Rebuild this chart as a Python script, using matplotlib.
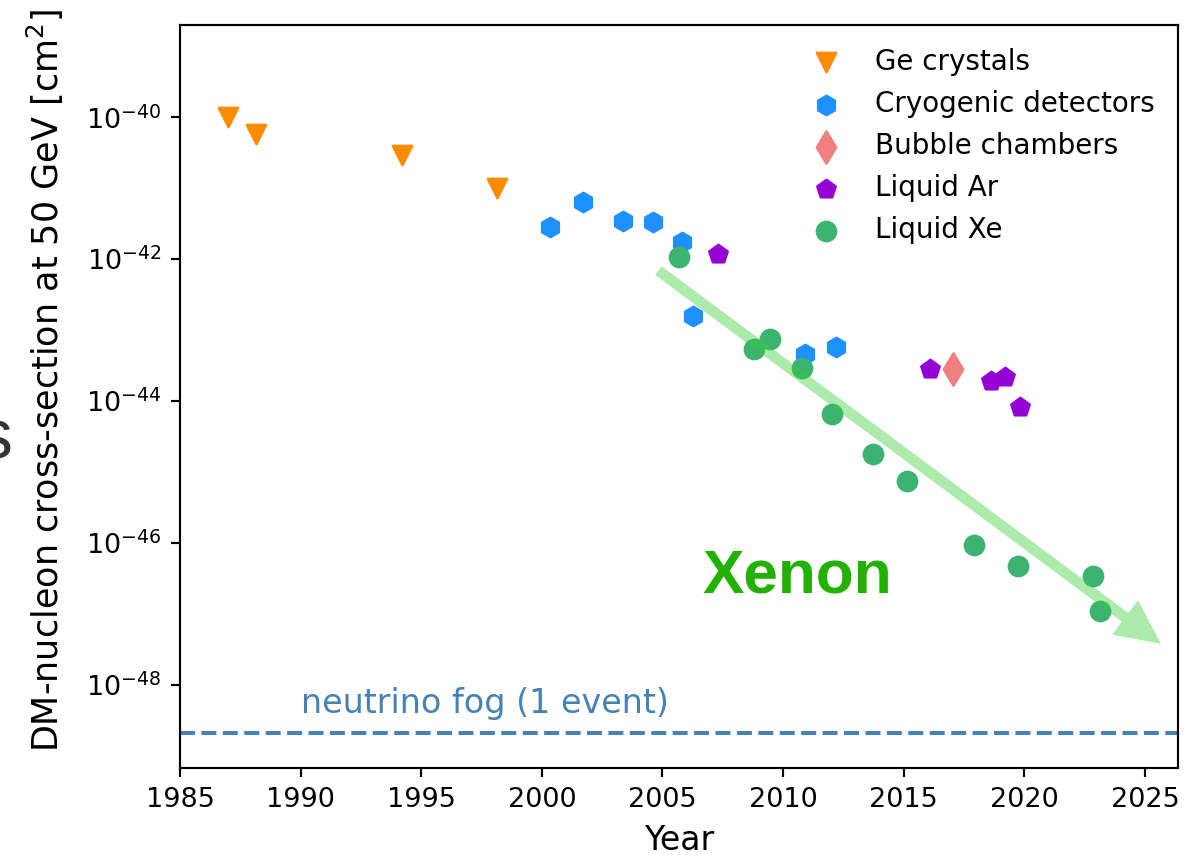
import matplotlib
matplotlib.use("Agg")
import matplotlib.pyplot as plt
from matplotlib.ticker import NullLocator

# Year of result and spin-independent cross-section limit at 50 GeV [cm^2]
ge_years = [1987.0, 1988.15, 1994.2, 1998.15]
ge_xsec = [1.0e-40, 5.9e-41, 2.9e-41, 1.0e-41]

cryo_years = [2000.35, 2001.7, 2003.37, 2004.6, 2005.8, 2006.27, 2010.9, 2012.2]
cryo_xsec = [2.8e-42, 6.3e-42, 3.5e-42, 3.3e-42, 1.74e-42, 1.6e-43, 4.55e-44, 5.7e-44]

bubble_years = [2017.06]
bubble_xsec = [2.8e-44]

ar_years = [2007.3, 2016.1, 2018.6, 2019.2, 2019.8]
ar_xsec = [1.18e-42, 2.85e-44, 1.9e-44, 2.2e-44, 8.2e-45]

xe_years = [2005.7, 2008.8, 2009.45, 2010.8, 2012.04, 2013.73, 2015.14,
            2017.9, 2019.73, 2022.83, 2023.15]
xe_xsec = [1.07e-42, 5.4e-44, 7.5e-44, 2.95e-44, 6.6e-45, 1.8e-45, 7.6e-46,
           9.4e-47, 4.7e-47, 3.4e-47, 1.1e-47]

neutrino_fog = 2.1e-49
trend_start = (2004.83, 6.9e-43)
trend_end = (2025.66, 3.8e-48)

x_ticks = [1985, 1990, 1995, 2000, 2005, 2010, 2015, 2020, 2025]
y_ticks = [1e-40, 1e-42, 1e-44, 1e-46, 1e-48]

DPI = 194
fig = plt.figure(figsize=(1198 / DPI, 855 / DPI), dpi=DPI)
ax = fig.add_axes([180 / 1198, 1 - 768 / 855, 998 / 1198, 743 / 855])

ms = 50
ax.scatter(ge_years, ge_xsec, marker="v", s=ms, color="darkorange",
           label="Ge crystals")
ax.scatter(cryo_years, cryo_xsec, marker="h", s=ms, color="dodgerblue",
           label="Cryogenic detectors")
ax.scatter(bubble_years, bubble_xsec, marker="d", s=ms * 1.4,
           color="lightcoral", label="Bubble chambers")
ax.scatter(ar_years, ar_xsec, marker="p", s=ms, color="darkviolet",
           label="Liquid Ar")
ax.scatter(xe_years, xe_xsec, marker="o", s=ms, color="mediumseagreen",
           label="Liquid Xe")

ax.axhline(neutrino_fog, color="steelblue", linestyle="--", linewidth=1.5)
ax.text(1990, 4.0e-49, "neutrino fog (1 event)", color="steelblue",
        fontsize=12.4, va="baseline", ha="left")

ax.annotate("", xy=trend_end, xytext=trend_start,
            arrowprops=dict(color="limegreen", alpha=0.4, width=4,
                            headwidth=16, headlength=16.5, shrink=0.0,
                            linewidth=0))
ax.text(2006.65, 10 ** -46.7, "Xenon", color="#22b100", fontsize=23,
        family="Liberation Sans", fontweight="bold",
        va="baseline", ha="left")

ax.set_yscale("log")
ax.set_xlim(1985, 2026.37)
ax.set_ylim(10 ** -49.17, 10 ** -38.70)
ax.set_xticks(x_ticks)
ax.set_yticks(y_ticks)
ax.yaxis.set_minor_locator(NullLocator())
ax.tick_params(labelsize=10)

ax.set_xlabel("Year", fontsize=12.3)
ax.set_ylabel("DM-nucleon cross-section at 50 GeV [cm$^2$]", fontsize=13)
ax.yaxis.set_label_coords(-0.114, 0.521)

ax.legend(loc="upper right", frameon=False, fontsize=10.3, labelspacing=0.51,
          borderaxespad=0.42)

fig.text(12 / 1198, 1 - 458 / 855, "s", fontsize=26, color="#333333",
         family="Liberation Sans", ha="right", va="baseline")

fig.savefig("out.png", dpi=DPI)
